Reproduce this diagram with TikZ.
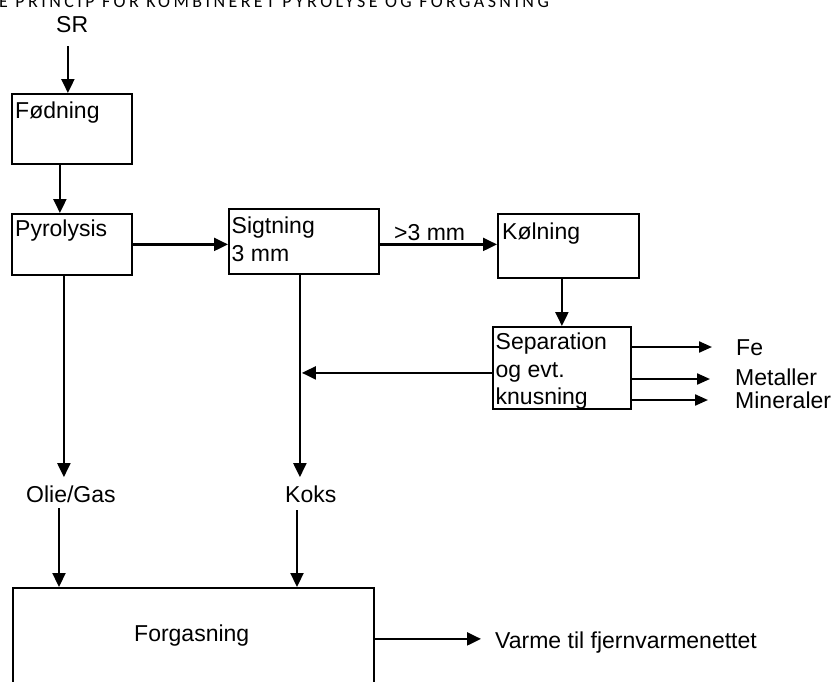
\documentclass[tikz,border=0pt]{standalone}
\usepackage{fontspec}
\setmainfont{Liberation Sans}
\newfontfamily\titlefont[LetterSpace=19]{Carlito}
\usetikzlibrary{arrows.meta,calc}
\begin{document}
\begin{tikzpicture}[x=1pt,y=-1pt,
  box/.style={draw, line width=1.8pt, inner sep=0pt, anchor=north west},
  lab/.style={inner sep=0pt, font=\fontsize{23}{27.5}\selectfont, align=left},
  arr/.style={line width=2.2pt, -{Triangle[length=14pt,width=13pt]}},
  sarr/.style={line width=2.2pt, -{Triangle[length=13pt,width=11pt]}}]
\useasboundingbox (0,0) rectangle (834,681);

% heading, running off the top edge
\node[anchor=base west, inner sep=0pt, font=\titlefont\fontsize{18}{21}\selectfont] (title) at (-1,7)
  {E PRINCIP FOR KOMBINERET PYROLYSE OG FORGASNING};

% process boxes
\node[box, minimum width=120pt, minimum height=70pt] (fod) at (11,93) {};
\node[box, minimum width=120pt, minimum height=61pt] (pyr) at (11,213) {};
\node[box, minimum width=150pt, minimum height=65pt] (sig) at (228,208) {};
\node[box, minimum width=141pt, minimum height=64pt] (kol) at (497,213) {};
\node[box, minimum width=138pt, minimum height=82pt] (sep) at (492,326) {};
\node[box, minimum width=361pt, minimum height=102pt] (forg) at (12,587) {};

% box captions
\node[lab, anchor=north west] (fodt) at ($(fod.north west)+(4,9)$) {Fødning};
\node[lab, anchor=north west] (pyrt) at ($(pyr.north west)+(4,7)$) {Pyrolysis};
\node[lab, anchor=north west] (sigt) at ($(sig.north west)+(3.5,9)$) {Sigtning\\3 mm};
\node[lab, anchor=north west] (kolt) at ($(kol.north west)+(5,10)$) {Kølning};
\node[lab, anchor=north west] (sept) at ($(sep.north west)+(3.5,7)$) {Separation\\og evt.\\knusning};
\node[lab, anchor=base west] (forgt) at (134,641) {Forgasning};

% free labels
\node[lab, anchor=base west] (sr) at (56,32) {SR};
\node[lab, anchor=base west] (gt) at (394,240) {>3 mm};
\node[lab, anchor=base west] (olie) at (26,502) {Olie/Gas};
\node[lab, anchor=base west] (koks) at (285,502) {Koks};
\node[lab, anchor=base west] (varme) at (495,648) {Varme til fjernvarmenettet};
\node[lab, anchor=base west] (fe) at (736,355) {Fe};
\node[lab, anchor=base west] (met) at (735,385) {Metaller};
\node[lab, anchor=base west] (min) at (735,408) {Mineraler};

% flows
\coordinate (a1) at ($(fod.north)+(-4,0)$);
\draw[arr, shorten <=14pt] (a1 |- sr.south) -- (a1);
\draw[arr] ($(fod.south)+(-12,0)$) -- ($(pyr.north)+(-12,0)$);
\draw[arr] (pyr.east) -- (pyr.east -| sig.west);
\draw[arr] (sig.east |- pyr.east) -- (kol.west |- pyr.east);
\draw[arr] (kol.south -| sep.north) -- (sep.north);

\coordinate (cx) at ($(sig.south)+(-4,0)$);
\draw[arr, shorten >=8pt] (cx) -- (cx |- koks.north);
\coordinate (sx) at ($(sep.west)+(0,5)$);
\draw[arr, shorten >=2pt] (sx) -- (sx -| cx);

\coordinate (px) at ($(pyr.south)+(-8,0)$);
\draw[arr, shorten >=8pt] (px) -- (px |- olie.north);

\coordinate (ox) at ($(forg.north west)+(47,0)$);
\draw[arr, shorten <=6pt] (ox |- olie.base) -- (ox);
\coordinate (kx) at ($(forg.north west)+(285,0)$);
\draw[arr, shorten <=8pt] (kx |- koks.base) -- (kx);

\draw[arr, shorten >=14pt] (forg.east) -- (forg.east -| varme.west);

\coordinate (f1) at ($(sep.north east)+(0,21)$);
\coordinate (f2) at ($(sep.north east)+(0,53)$);
\coordinate (f3) at ($(sep.north east)+(0,74)$);
\draw[sarr, shorten >=24pt] (f1) -- (f1 -| fe.west);
\draw[sarr, shorten >=25pt] (f2) -- (f2 -| met.west);
\draw[sarr, shorten >=27pt] (f3) -- (f3 -| min.west);
\end{tikzpicture}
\end{document}
